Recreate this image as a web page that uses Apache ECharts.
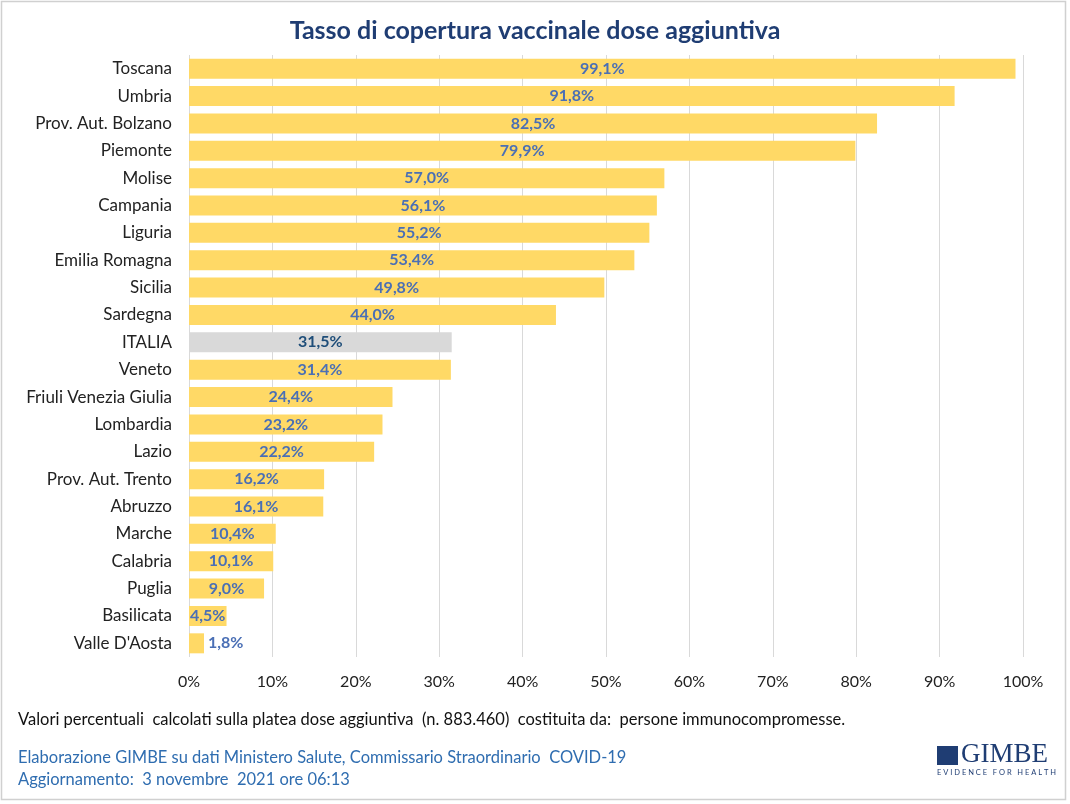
<!DOCTYPE html>
<html>
<head>
<meta charset="utf-8">
<script src="https://cdn.jsdelivr.net/npm/echarts@6/dist/echarts.min.js"></script>
<style>
  html, body { margin: 0; padding: 0; background: #fff; }
  #chart { width: 1070px; height: 804px; }
</style>
</head>
<body>
<div id="chart"></div>
<script>
// regioni, dall'alto verso il basso
const regions = ['Toscana', 'Umbria', 'Prov. Aut. Bolzano', 'Piemonte', 'Molise', 'Campania',
  'Liguria', 'Emilia Romagna', 'Sicilia', 'Sardegna', 'ITALIA', 'Veneto',
  'Friuli Venezia Giulia', 'Lombardia', 'Lazio', 'Prov. Aut. Trento', 'Abruzzo',
  'Marche', 'Calabria', 'Puglia', 'Basilicata', "Valle D'Aosta"]
const coverage = [99.1, 91.8, 82.5, 79.9, 57.0, 56.1, 55.2, 53.4, 49.8, 44.0, 31.5, 31.4,
  24.4, 23.2, 22.2, 16.2, 16.1, 10.4, 10.1, 9.0, 4.5, 1.8]
const xTicks = [0, 10, 20, 30, 40, 50, 60, 70, 80, 90, 100]

const font = 'Lato, "Open Sans", sans-serif'
const fmt = v => v.toFixed(1).replace('.', ',') + '%'

var myChart = echarts.init(document.getElementById('chart'))

var barData = coverage.map((v, i) => {
  var item = { value: v }
  if (regions[i] === 'ITALIA') {
    item.itemStyle = { color: '#D9D9D9' }
    item.label = { color: '#1F4E79' }
  }
  if (v < 3) {
    item.label = { position: 'right', distance: 4 }
  }
  return item
})

var option = {
  animation: false,
  backgroundColor: '#fff',
  title: {
    text: 'Tasso di copertura vaccinale dose aggiuntiva',
    left: 'center',
    top: 13,
    textStyle: { fontFamily: font, fontSize: 25, fontWeight: 'bold', color: '#1F3D73' }
  },
  grid: { left: 189, right: 47, top: 55, bottom: 147 },
  xAxis: {
    type: 'value',
    min: 0,
    max: 100,
    interval: 10,
    axisLine: { show: false },
    axisTick: { show: false },
    splitLine: { lineStyle: { color: '#D9D9D9', width: 1 } },
    axisLabel: {
      margin: 17,
      fontFamily: font, fontSize: 16, color: '#222',
      formatter: v => xTicks.includes(v) ? v + '%' : ''
    }
  },
  yAxis: {
    type: 'category',
    inverse: true,
    data: regions,
    axisLine: { show: false },
    axisTick: { show: false },
    axisLabel: { margin: 17, fontFamily: font, fontSize: 17, color: '#222' }
  },
  series: [{
    type: 'bar',
    data: barData,
    barWidth: 20,
    itemStyle: { color: '#FFD966' },
    label: {
      show: true,
      position: 'inside',
      fontFamily: font,
      fontSize: 16,
      fontWeight: 'bold',
      color: '#4A6FB5',
      formatter: p => fmt(p.value)
    }
  }],
  graphic: [
    { type: 'rect', shape: { x: 1.5, y: 1.5, width: 1064, height: 798 },
      style: { fill: 'none', stroke: '#D0D0D0', lineWidth: 1.5 }, silent: true },
    { type: 'text', left: 18, top: 711,
      style: { text: 'Valori percentuali  calcolati sulla platea dose aggiuntiva  (n. 883.460)  costituita da:  persone immunocompromesse.',
        font: '16.5px ' + font, fill: '#111' } },
    { type: 'text', left: 18, top: 749,
      style: { text: 'Elaborazione GIMBE su dati Ministero Salute, Commissario Straordinario  COVID-19',
        font: '16.5px ' + font, fill: '#2F6DB0' } },
    { type: 'text', left: 18, top: 771,
      style: { text: 'Aggiornamento:  3 novembre  2021 ore 06:13',
        font: '16.5px ' + font, fill: '#2F6DB0' } },
    // logo GIMBE
    { type: 'rect', shape: { x: 937, y: 746, width: 21, height: 19 },
      style: { fill: '#1F3D73' } },
    { type: 'text', left: 961, top: 741,
      style: { text: 'GIMBE', font: '27px "Liberation Serif", "DejaVu Serif", serif', fill: '#1F3D73' } },
    { type: 'text', left: 937, top: 769,
      style: { text: 'E V I D E N C E   F O R   H E A L T H', font: '7.5px ' + font, fill: '#1F3D73' } }
  ]
}

myChart.setOption(option)
</script>
</body>
</html>
